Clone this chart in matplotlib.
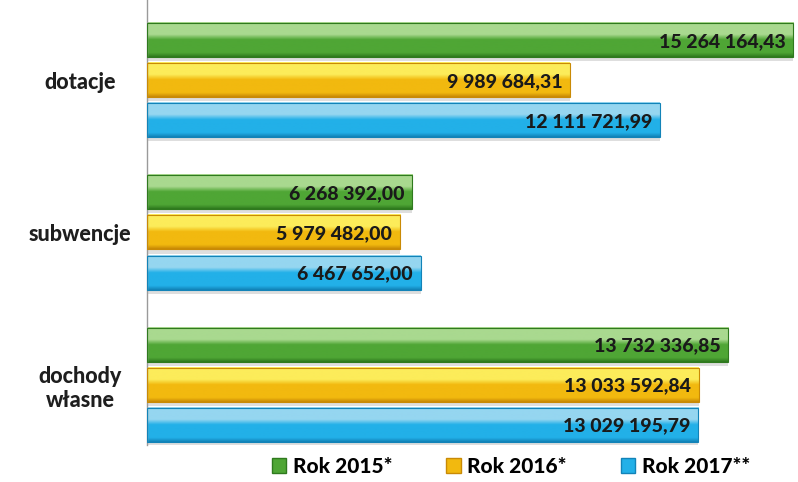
import numpy as np
import matplotlib.pyplot as plt
from matplotlib.patches import Patch
from matplotlib.colors import LinearSegmentedColormap

plt.rcParams['font.family'] = ['Lato', 'DejaVu Sans']

# dane
kategorie = ['dotacje', 'subwencje', 'dochody\nwłasne']
lata = ['Rok 2015*', 'Rok 2016*', 'Rok 2017**']
rok_2015 = [15264164.43, 6268392.00, 13732336.85]
rok_2016 = [9989684.31, 5979482.00, 13033592.84]
rok_2017 = [12111721.99, 6467652.00, 13029195.79]
etykiety_2015 = ['15 264 164,43', '6 268 392,00', '13 732 336,85']
etykiety_2016 = ['9 989 684,31', '5 979 482,00', '13 033 592,84']
etykiety_2017 = ['12 111 721,99', '6 467 652,00', '13 029 195,79']

kolory = ['#4fa635', '#f2b90f', '#22b0e8']
jasne = ['#a9d98f', '#fcec5a', '#95d6f0']
ciemne = ['#2f7a1e', '#c98a05', '#1283b8']

fig = plt.figure(figsize=(7.98, 4.82), dpi=100)
ax = fig.add_axes([0.184, 0.077, 0.816, 0.923])

srodki = np.array([2.0, 5.8, 9.6])
wys = 0.85
serie = [rok_2015, rok_2016, rok_2017]
etykiety = [etykiety_2015, etykiety_2016, etykiety_2017]
grad = np.linspace(0, 1, 64).reshape(-1, 1)

for i, (wart, et) in enumerate(zip(serie, etykiety)):
    y = srodki + (i - 1)
    cmap = LinearSegmentedColormap.from_list(
        'g%d' % i, [(0, jasne[i]), (0.35, jasne[i]), (0.5, kolory[i]),
                    (0.88, kolory[i]), (1, ciemne[i])])
    # cien
    ax.barh(y + 0.1, wart, height=wys, left=0, color='#c8c8c8', alpha=0.6, zorder=1)
    for yy, v, t in zip(y, wart, et):
        ax.imshow(grad, extent=(0, v, yy + wys / 2, yy - wys / 2), aspect='auto',
                  cmap=cmap, origin='upper', zorder=2)
        ax.text(v - 180000, yy + 0.03, t, ha='right', va='center', fontsize=14,
                fontweight='black', color='#1a1a1a', zorder=4)
    ax.barh(y, wart, height=wys, facecolor='none', edgecolor=ciemne[i],
            linewidth=0.8, zorder=3)

ax.set_xlim(0, 15380000)
ax.set_ylim(11.1, 0)
ax.set_yticks(srodki)
ax.set_yticklabels(kategorie, fontsize=15.5, fontweight='black', color='#1e1e1e',
                   ha='center', multialignment='center')
ax.tick_params(axis='y', length=0, pad=48)
ax.set_xticks([])
for s in ['top', 'right', 'bottom']:
    ax.spines[s].set_visible(False)
ax.spines['left'].set_color('#9a9a9a')
ax.spines['left'].set_linewidth(1.0)

uchwyty = [Patch(facecolor=kolory[i], edgecolor=ciemne[i]) for i in range(3)]
fig.legend(uchwyty, lata, loc='center', bbox_to_anchor=(0.64, 0.032), ncol=3,
           frameon=False, handlelength=0.7, handleheight=0.7, handletextpad=0.3,
           columnspacing=2.6, prop={'size': 15, 'weight': 'black'})

fig.savefig('out.png', dpi=100)
